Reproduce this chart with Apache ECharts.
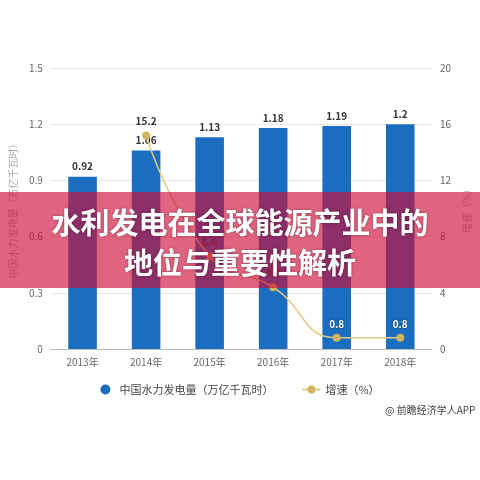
<!DOCTYPE html>
<html><head><meta charset="utf-8">
<script src="https://cdn.jsdelivr.net/npm/echarts@6/dist/echarts.min.js"></script>
<style>html,body{margin:0;padding:0;background:#fff}#c{width:480px;height:480px}</style>
</head><body><div id="c"></div>
<script>
const categories = ['2013年','2014年','2015年','2016年','2017年','2018年'];
const output = [0.92, 1.06, 1.13, 1.18, 1.19, 1.2];
const growth = [null, 15.2, 6.6, 4.4, 0.8, 0.8];
const barName = '中国水力发电量（万亿千瓦时）';
const lineName = '增速（%）';
const titleLines = ['水利发电在全球能源产业中的', '地位与重要性解析'];
const sourceText = '@ 前瞻经济学人APP';

const font = '"Noto Sans CJK SC", "Noto Sans", sans-serif';
const chart = echarts.init(document.getElementById('c'), null, {renderer:'canvas'});
chart.setOption({
  animation: false,
  backgroundColor: '#fff',
  textStyle: {fontFamily: font},
  grid: {left: 45, right: 40, top: 68, bottom: 131},
  legend: {
    bottom: 80, left: 'center', itemGap: 28, itemWidth: 18, itemHeight: 10,
    textStyle: {fontSize: 11, color: '#444'},
    data: [{name: barName, icon: 'circle'}, {name: lineName}]
  },
  xAxis: {
    type: 'category', data: categories,
    axisLine: {lineStyle: {color: '#bbb'}},
    axisTick: {alignWithLabel: true, lineStyle: {color: '#bbb'}},
    axisLabel: {color: '#666', fontSize: 10, margin: 8}
  },
  yAxis: [{
    type: 'value', min: 0, max: 1.5, interval: 0.3,
    name: barName, nameLocation: 'middle', nameGap: 32, nameRotate: 90,
    nameTextStyle: {color: '#aaa', fontSize: 10},
    axisLine: {show: false}, axisTick: {show: false},
    axisLabel: {color: '#666', fontSize: 10, formatter: v => v === 0 ? '0' : v.toFixed(1)},
    splitLine: {lineStyle: {color: '#e6e6e6'}}
  }, {
    type: 'value', min: 0, max: 20, interval: 4,
    name: lineName, nameLocation: 'middle', nameGap: 28, nameRotate: 90,
    nameTextStyle: {color: '#aaa', fontSize: 10},
    axisLine: {show: false}, axisTick: {show: false},
    axisLabel: {color: '#666', fontSize: 10},
    splitLine: {show: false}
  }],
  series: [{
    name: barName, type: 'bar', data: output, barWidth: '45%',
    itemStyle: {color: '#1b6dc0'},
    label: {show: true, position: 'top', color: '#333', fontWeight: 'bold', fontSize: 10}
  }, {
    name: lineName, type: 'line', yAxisIndex: 1, smooth: true,
    data: growth.map((v, i) => i >= 4 ? {value: v, label: {color: '#fff', textBorderColor: '#1d5a9a', textBorderWidth: 2}} : v),
    symbol: 'circle', symbolSize: 8,
    lineStyle: {color: '#e2cc85', width: 1.5},
    itemStyle: {color: '#d2b35e'},
    label: {show: true, position: 'top', color: '#333', fontWeight: 'bold', fontSize: 10, distance: 5}
  }],
  graphic: [
    {type: 'text', x: 385, y: 405, style: {text: sourceText, fill: '#444', fontSize: 10, fontFamily: font}},
    {type: 'rect', x: 0, y: 192, z: 100, shape: {width: 480, height: 96},
     style: {fill: 'rgba(206,12,55,0.64)'}},
    {type: 'text', z: 101, x: 240, y: 203,
     style: {text: titleLines.join('\n'), fill: '#fff', fontSize: 29, fontWeight: 'bold', lineHeight: 40,
             align: 'center', verticalAlign: 'top', fontFamily: font,
             textShadowColor: 'rgba(0,0,0,0.35)', textShadowBlur: 3}}
  ]
});
</script></body></html>
